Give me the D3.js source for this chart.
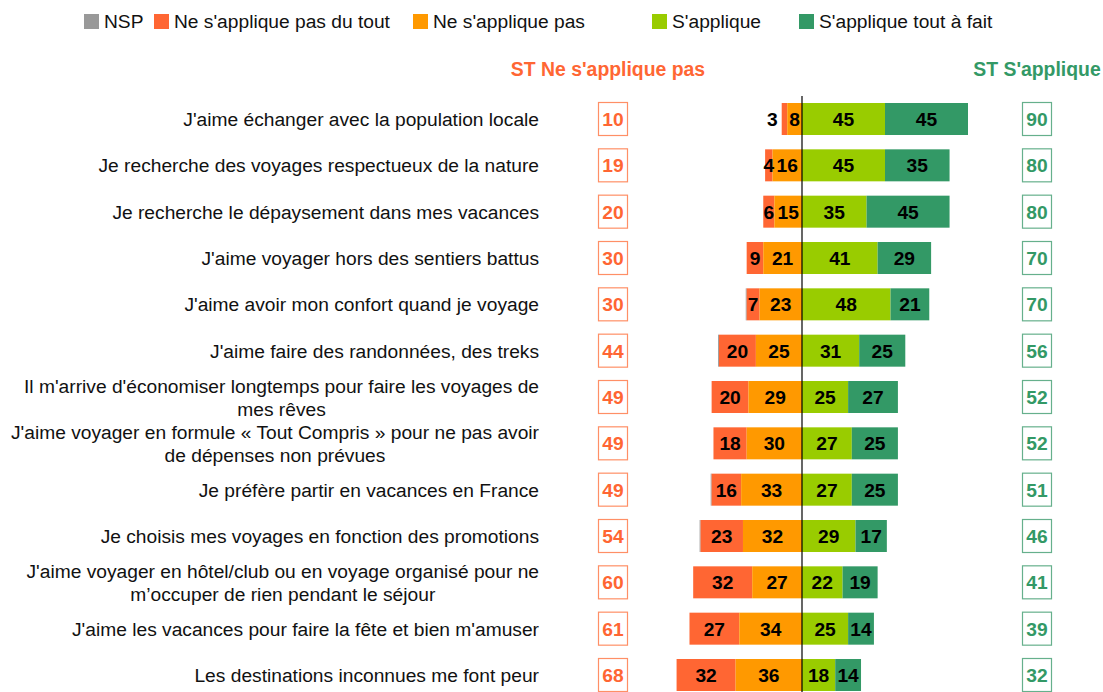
<!DOCTYPE html>
<html>
<head>
<meta charset="utf-8">
<script src="https://cdn.jsdelivr.net/npm/d3@7"></script>
<style>
  body { margin: 0; background: #fff; }
  text { font-family: "Liberation Sans", Arial, sans-serif; }
</style>
</head>
<body>
<div id="chart"></div>
<script>
// data
var categories = [
  "J'aime échanger avec la population locale",
  "Je recherche des voyages respectueux de la nature",
  "Je recherche le dépaysement dans mes vacances",
  "J'aime voyager hors des sentiers battus",
  "J'aime avoir mon confort quand je voyage",
  "J'aime faire des randonnées, des treks",
  "Il m'arrive d'économiser longtemps pour faire les voyages de|mes rêves",
  "J'aime voyager en formule « Tout Compris » pour ne pas avoir|de dépenses non prévues",
  "Je préfère partir en vacances en France",
  "Je choisis mes voyages en fonction des promotions",
  "J'aime voyager en hôtel/club ou en voyage organisé pour ne|m’occuper de rien pendant le séjour",
  "J'aime les vacances pour faire la fête et bien m'amuser",
  "Les destinations inconnues me font peur"
];
var nsp        = [0, 0, 0, 0, 0.5, 0.5, 0, 0, 0.5, 0.5, 0, 0, 0];
var pasDuTout  = [3, 4, 6, 9, 7, 20, 20, 18, 16, 23, 32, 27, 32];
var pas        = [8, 16, 15, 21, 23, 25, 29, 30, 33, 32, 27, 34, 36];
var sapplique  = [45, 45, 35, 41, 48, 31, 25, 27, 27, 29, 22, 25, 18];
var toutAFait  = [45, 35, 45, 29, 21, 25, 27, 25, 25, 17, 19, 14, 14];
var stNe       = [10, 19, 20, 30, 30, 44, 49, 49, 49, 54, 60, 61, 68];
var stOui      = [90, 80, 80, 70, 70, 56, 52, 52, 51, 46, 41, 39, 32];

var legendLabels = ["NSP", "Ne s'applique pas du tout", "Ne s'applique pas", "S'applique", "S'applique tout à fait"];
var colors = ["#999999", "#FF6633", "#FF9900", "#99CC00", "#339966"];

var svgWidth = 1103, svgHeight = 692;
var fs = 19.2;

var svg = d3.select("#chart").append("svg")
  .attr("width", svgWidth)
  .attr("height", svgHeight);

// scales
var x = d3.scaleLinear().domain([0, 90]).range([802, 968]);
var y = d3.scalePoint().domain(d3.range(categories.length)).range([119, 675]);
var barH = 32;

// legend
var legendX = [84, 154, 413, 652, 799];
var legend = svg.append("g");
legendLabels.forEach(function(l, i) {
  legend.append("rect")
    .attr("x", legendX[i]).attr("y", 14)
    .attr("width", 15).attr("height", 15)
    .attr("fill", colors[i]);
  legend.append("text")
    .attr("x", legendX[i] + 20).attr("y", 28)
    .attr("font-size", fs).attr("fill", "#111")
    .text(l);
});

// headers
svg.append("text")
  .attr("x", 608).attr("y", 76)
  .attr("text-anchor", "middle")
  .attr("font-size", 19.4).attr("font-weight", "bold")
  .attr("fill", "#FF6633")
  .text("ST Ne s'applique pas");
svg.append("text")
  .attr("x", 1037).attr("y", 76)
  .attr("text-anchor", "middle")
  .attr("font-size", 19.4).attr("font-weight", "bold")
  .attr("fill", "#339966")
  .text("ST S'applique");

// category labels (block right aligned, lines centred in block)
categories.forEach(function(c, i) {
  var lines = c.split("|");
  var g = svg.append("g");
  var texts = lines.map(function(line, j) {
    return g.append("text")
      .attr("y", y(i) + 7 + (j - (lines.length - 1) / 2) * 23)
      .attr("font-size", fs).attr("fill", "#111")
      .attr("text-anchor", "middle")
      .text(line);
  });
  var maxW = d3.max(texts, function(t) { return t.node().getComputedTextLength(); });
  texts.forEach(function(t) { t.attr("x", 539 - maxW / 2); });
});

// stacked bars
var rows = categories.map(function(c, i) {
  var neg = [
    {v: nsp[i], c: colors[0]},
    {v: pasDuTout[i], c: colors[1]},
    {v: pas[i], c: colors[2]}
  ];
  var segs = [];
  var start = -(nsp[i] + pasDuTout[i] + pas[i]);
  neg.forEach(function(s, k) {
    segs.push({i: i, k: k, x0: start, x1: start + s.v, v: s.v, c: s.c});
    start += s.v;
  });
  segs.push({i: i, k: 3, x0: 0, x1: sapplique[i], v: sapplique[i], c: colors[3]});
  segs.push({i: i, k: 4, x0: sapplique[i], x1: sapplique[i] + toutAFait[i], v: toutAFait[i], c: colors[4]});
  return segs;
});
var segments = d3.merge(rows);

svg.append("g").selectAll("rect")
  .data(segments.filter(function(d) { return d.v > 0; }))
  .enter().append("rect")
  .attr("x", function(d) { return x(d.x0); })
  .attr("y", function(d) { return y(d.i) - barH / 2; })
  .attr("width", function(d) { return x(d.x1) - x(d.x0); })
  .attr("height", barH)
  .attr("fill", function(d) { return d.c; });

// value labels
svg.append("g").selectAll("text")
  .data(segments.filter(function(d) { return d.k > 0; }))
  .enter().append("text")
  .attr("x", function(d) {
    if (d.v < 4) return x(d.x0) - 4;
    return (x(d.x0) + x(d.x1)) / 2;
  })
  .attr("y", function(d) { return y(d.i) + 7; })
  .attr("text-anchor", function(d) { return d.v < 4 ? "end" : "middle"; })
  .attr("font-size", fs).attr("font-weight", "bold")
  .attr("fill", "#000")
  .text(function(d) { return d.v; });

// centre line
svg.append("line")
  .attr("x1", x(0)).attr("x2", x(0))
  .attr("y1", 96).attr("y2", svgHeight)
  .attr("stroke", "#000").attr("stroke-width", 1.2);

// total boxes
function boxes(vals, cx, stroke, fill) {
  var g = svg.append("g");
  vals.forEach(function(v, i) {
    g.append("rect")
      .attr("x", cx - 14.5).attr("y", y(i) - 16.5)
      .attr("width", 29).attr("height", 33)
      .attr("fill", "#fff")
      .attr("stroke", stroke).attr("stroke-width", 1.2);
    g.append("text")
      .attr("x", cx).attr("y", y(i) + 7)
      .attr("text-anchor", "middle")
      .attr("font-size", fs).attr("font-weight", "bold")
      .attr("fill", fill)
      .text(v);
  });
}
boxes(stNe, 613, "#FF8F66", "#FF6633");
boxes(stOui, 1037, "#66B08C", "#339966");
</script>
</body>
</html>
